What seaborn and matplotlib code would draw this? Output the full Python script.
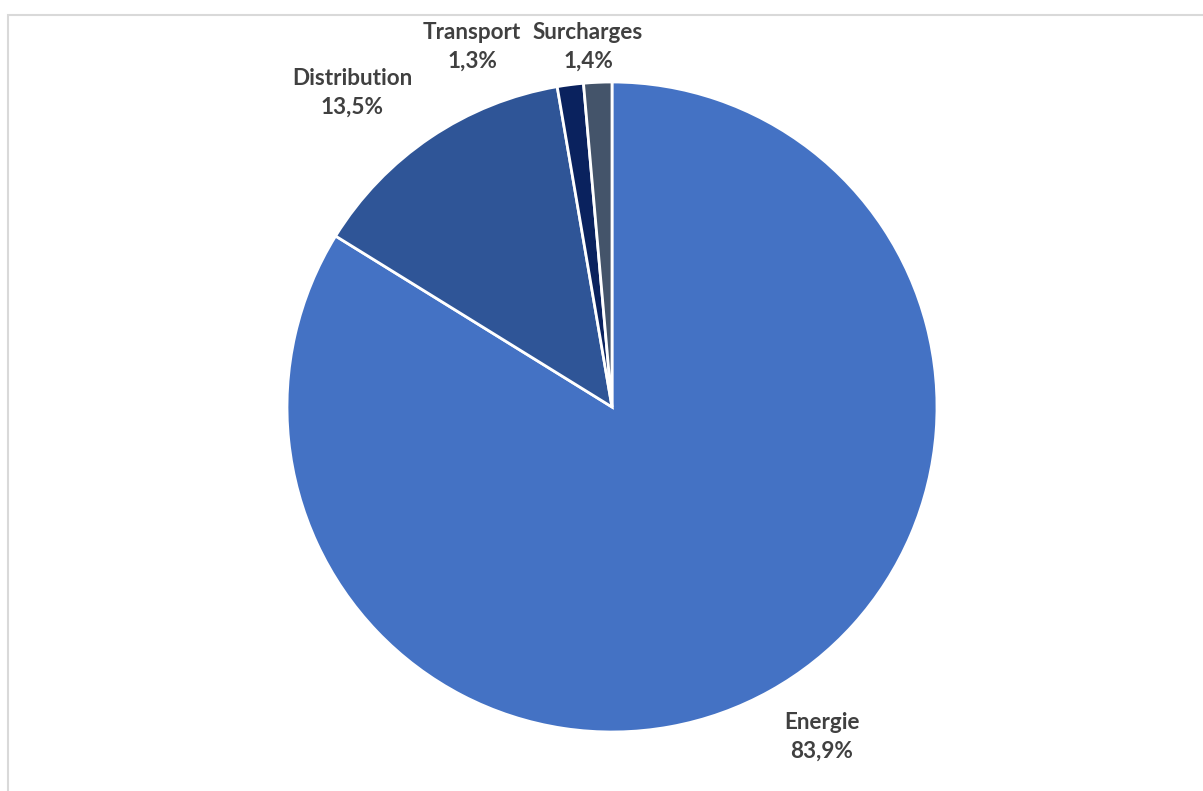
import matplotlib
matplotlib.use("Agg")
import matplotlib.pyplot as plt
from matplotlib.patches import Rectangle
import seaborn as sns

# Breakdown of the price components
categories = ["Energie", "Distribution", "Transport", "Surcharges"]
shares = [83.9, 13.5, 1.3, 1.4]
share_labels = ["83,9%", "13,5%", "1,3%", "1,4%"]
colors = ["#4472C4", "#2F5597", "#0A225E", "#44546A"]

sns.set_theme(style="white")
plt.rcParams["font.family"] = ["Lato", "DejaVu Sans"]

W, H, DPI = 1203, 791, 100
fig = plt.figure(figsize=(W / DPI, H / DPI), dpi=DPI)
fig.patch.set_facecolor("white")

# light chart-area frame
fig.add_artist(Rectangle((7.5 / W, -0.05), 1.2, 1 - 14.5 / H + 0.05,
                         transform=fig.transFigure, fill=False,
                         edgecolor="#D9D9D9", linewidth=1.5))

cx, cy, r = 612, 407, 325
ax = fig.add_axes([(cx - r) / W, (H - cy - r) / H, 2 * r / W, 2 * r / H])
ax.pie(shares, colors=colors, startangle=90, counterclock=False, radius=1,
       wedgeprops=dict(edgecolor="white", linewidth=2))
ax.set_xlim(-1, 1)
ax.set_ylim(-1, 1)
ax.set_axis_off()

# label anchor points (pixel positions of each label block centre)
label_pos = {
    "Energie": (822, 737),
    "Distribution": (352, 93),
    "Transport": (472, 47),
    "Surcharges": (588, 47),
}
for name, lab in zip(categories, share_labels):
    px, py = label_pos[name]
    ax.text((px - cx) / r, (cy - py) / r, f"{name}\n{lab}",
            ha="center", va="center", fontsize=16.2, fontweight="bold",
            color="#404040", linespacing=1.45)

fig.savefig("out.png", dpi=DPI, facecolor="white")
